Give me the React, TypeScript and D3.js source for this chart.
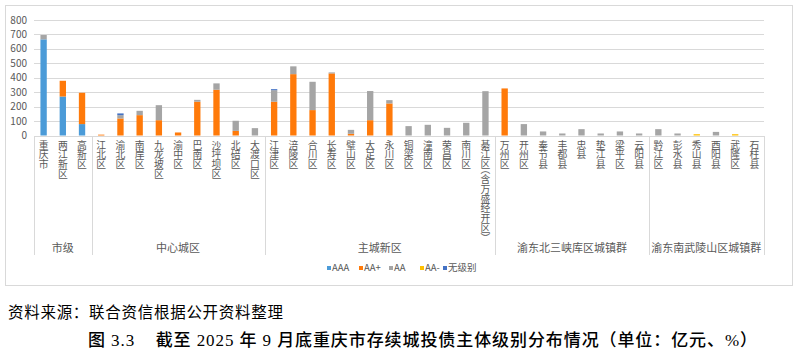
import React from 'react';
import * as d3 from 'd3';

const categories = [
  '重庆市', '两江新区', '高新区',
  '江北区', '渝北区', '南岸区', '九龙坡区', '渝中区', '巴南区', '沙坪坝区', '北碚区', '大渡口区',
  '江津区', '涪陵区', '合川区', '长寿区', '璧山区', '大足区', '永川区', '铜梁区', '潼南区', '荣昌区', '南川区', '綦江区（含万盛经开区）',
  '万州区', '开州区', '奉节县', '丰都县', '忠县', '垫江县', '梁平区', '云阳县',
  '黔江区', '彭水县', '秀山县', '酉阳县', '武隆区', '石柱县',
];
const groupNames = ['市级', '中心城区', '主城新区', '渝东北三峡库区城镇群', '渝东南武陵山区城镇群'];
const groupSizes = [3, 9, 12, 8, 6];

const seriesNames = ['AAA', 'AA+', 'AA', 'AA-', '无级别'];
const seriesColors = ['#4B9BD8', '#FF7A0A', '#A5A5A5', '#FFC000', '#4472C4'];

const aaa = [666, 270, 79, 0, 0, 0, 0, 0, 0, 0, 0, 0, 0, 0, 0, 0, 0, 0, 0, 0, 0, 0, 0, 0, 0, 0, 0, 0, 0, 0, 0, 0, 0, 0, 0, 0, 0, 0];
const aaPlus = [0, 109, 217, 6, 118, 141, 106, 21, 234, 317, 32, 0, 234, 425, 176, 430, 12, 106, 222, 0, 0, 0, 0, 0, 326, 0, 0, 0, 0, 0, 0, 0, 0, 0, 0, 0, 0, 0];
const aa = [30, 0, 0, 0, 23, 30, 104, 0, 13, 44, 70, 51, 80, 54, 196, 7, 27, 202, 23, 65, 74, 53, 88, 307, 0, 79, 28, 14, 44, 14, 28, 14, 44, 14, 0, 25, 0, 0];
const aaMinus = [0, 0, 0, 0, 0, 0, 0, 0, 0, 0, 0, 0, 0, 0, 0, 0, 0, 0, 0, 0, 0, 0, 0, 0, 0, 0, 0, 0, 0, 0, 0, 0, 0, 0, 9, 0, 9, 0];
const unrated = [0, 0, 0, 0, 12, 0, 0, 0, 0, 0, 0, 0, 7, 0, 0, 0, 0, 0, 0, 0, 0, 0, 0, 0, 0, 0, 0, 0, 0, 0, 0, 0, 0, 0, 0, 0, 0, 0];

const yTicks = [0, 100, 200, 300, 400, 500, 600, 700, 800];

const sourceText = '资料来源：联合资信根据公开资料整理';
const titleText = '图 3.3    截至 2025 年 9 月底重庆市存续城投债主体级别分布情况（单位：亿元、%）';

const CJK = "'Noto Sans CJK SC', 'Noto Sans', sans-serif";
const TXT = '#595959';

export default function App() {
  const W = 800;
  const H = 356;
  const x = d3.scaleBand<string>().domain(categories).range([34, 764]).paddingInner(0.67).paddingOuter(0.335);
  const y = d3.scaleLinear().domain([0, 800]).range([135.5, 20]);

  const seriesArrays = [aaa, aaPlus, aa, aaMinus, unrated];
  const table = categories.map((c, i) => {
    const row: any = { cat: c };
    seriesNames.forEach((k, j) => { row[k] = seriesArrays[j][i]; });
    return row;
  });
  const stacked = d3.stack<any>().keys(seriesNames)(table);

  const step = x.step();
  const x0 = x.range()[0];
  const bounds: number[] = [0];
  groupSizes.forEach((s) => bounds.push(bounds[bounds.length - 1] + s));

  const legendX = [327, 359, 389, 420, 443];

  return (
    <svg width={W} height={H} viewBox={`0 0 ${W} ${H}`} style={{ position: 'absolute', left: 0, top: 0, background: '#fff' }}>
      <rect x={0} y={0} width={W} height={H} fill="#fff" />
      <rect x={5.5} y={5.5} width={787} height={280} fill="#fff" stroke="#d9d9d9" strokeWidth={1} />

      {yTicks.map((t) => (
        <g key={t}>
          <line x1={34} x2={764} y1={Math.round(y(t)) + 0.5} y2={Math.round(y(t)) + 0.5} stroke="#d9d9d9" strokeWidth={1} />
          <text x={27} y={y(t)} dy="0.35em" textAnchor="end" fontSize={10} fontFamily={CJK} fill={TXT}>{t}</text>
        </g>
      ))}

      {stacked.map((s, si) => (
        <g key={s.key} fill={seriesColors[si]}>
          {s.map((d, i) => {
            const h = y(d[0]) - y(d[1]);
            if (h <= 0) return null;
            return <rect key={i} x={x(categories[i])} y={y(d[1])} width={x.bandwidth()} height={h} />;
          })}
        </g>
      ))}

      {bounds.map((b, i) => (
        <line key={i} x1={Math.round(x0 + b * step) + 0.5} x2={Math.round(x0 + b * step) + 0.5} y1={136} y2={255} stroke="#d9d9d9" strokeWidth={1} />
      ))}

      {categories.map((c) => (
        <text
          key={c}
          x={(x(c) as number) + x.bandwidth() / 2}
          y={140}
          fontSize={9.8}
          fontFamily={CJK}
          fill={TXT}
          style={{ writingMode: 'vertical-rl', fontFeatureSettings: "'vhal'" } as any}
        >{c}</text>
      ))}

      {groupNames.map((g, i) => (
        <text key={g} x={x0 + ((bounds[i] + bounds[i + 1]) / 2) * step} y={248} dy="0.35em" textAnchor="middle" fontSize={11} fontFamily={CJK} fill={TXT}>{g}</text>
      ))}

      {seriesNames.map((n, i) => (
        <g key={n}>
          <rect x={legendX[i]} y={266} width={4} height={4} fill={seriesColors[i]} />
          <text x={legendX[i] + 5} y={268} dy="0.35em" fontSize={9.5} fontFamily={CJK} fill={TXT}>{n}</text>
        </g>
      ))}

      <text x={8} y={318} fontSize={15.5} fontFamily={"'Liberation Serif', 'Noto Sans CJK SC', serif"} fill="#000" textLength={275} lengthAdjust="spacing">{sourceText}</text>
      <text x={88} y={346} fontSize={17} fontWeight={500} fontFamily={"'Liberation Serif', 'Noto Sans CJK SC', serif"} fill="#000" textLength={669} lengthAdjust="spacing" style={{ whiteSpace: 'pre' } as any}>{titleText}</text>
    </svg>
  );
}
